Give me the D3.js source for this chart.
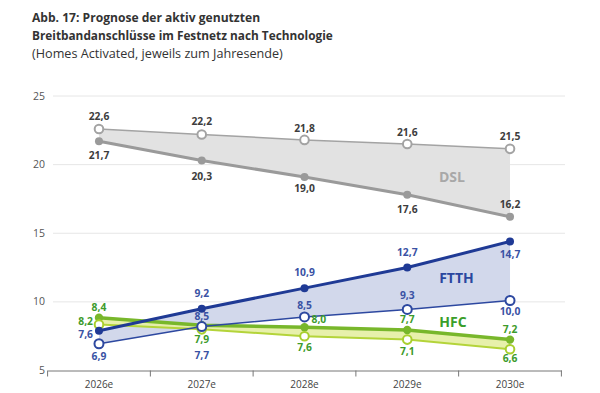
<!DOCTYPE html>
<html><head><meta charset="utf-8">
<script src="https://cdn.jsdelivr.net/npm/d3@7"></script>
<style>body{margin:0;background:#fff;}svg{display:block;font-family:"Open Sans",sans-serif;}</style>
</head><body><svg id="c" width="600" height="393"></svg>
<script>
const years = ["2026e","2027e","2028e","2029e","2030e"];
const yTicks = [5,10,15,20,25];
const dslTop = [22.6, 22.2, 21.8, 21.5, 21.15];
const dslBottom = [21.7, 20.3, 19.1, 17.8, 16.2];
const ftthTop = [7.9, 9.5, 11.0, 12.5, 14.4];
const ftthBottom = [6.95, 8.2, 8.9, 9.45, 10.1];
const hfcTop = [8.85, 8.3, 8.15, 7.95, 7.25];
const hfcBottom = [8.35, 8.0, 7.5, 7.25, 6.55];
const dslTopLabels = ["22,6","22,2","21,8","21,6","21,5"];
const dslBottomLabels = ["21,7","20,3","19,0","17,6","16,2"];
const ftthTopLabels = ["7,6","9,2","10,9","12,7","14,7"];
const ftthBottomLabels = ["6,9","7,7","8,5","9,3","10,0"];
const hfcTopLabels = ["8,4","8,5","8,0","7,7","7,2"];
const hfcBottomLabels = ["8,2","7,9","7,6","7,1","6,6"];

const svg = d3.select("#c");
const x = d3.scaleBand().domain(years).range([47.6, 561.4]);
const cx = d => x(d) + x.bandwidth()/2;
const y = d3.scaleLinear().domain([5,25]).range([370.5, 96]);

// title
const t = svg.append("g").attr("fill","#333");
t.append("text").attr("x",32).attr("y",22).attr("font-size",12.6).attr("font-weight","bold").text("Abb. 17: Prognose der aktiv genutzten");
t.append("text").attr("x",32).attr("y",40).attr("font-size",12.6).attr("font-weight","bold").text("Breitbandanschlüsse im Festnetz nach Technologie");
t.append("text").attr("x",32).attr("y",58).attr("font-size",12.6).text("(Homes Activated, jeweils zum Jahresende)");
t.selectAll("text").each(function(d,i){
  const target=[228,301,251][i]; const w=this.getComputedTextLength();
  d3.select(this).attr("font-size", 12.6*target/w);
});

// grid
svg.append("g").selectAll("line").data(yTicks.filter(v=>v>5)).join("line")
  .attr("x1",53).attr("x2",565).attr("y1",d=>y(d)).attr("y2",d=>y(d))
  .attr("stroke","#e6e6e6").attr("stroke-width",1);
svg.append("g").selectAll("text").data(yTicks).join("text")
  .attr("x",45).attr("y",d=>y(d)+3.5).attr("text-anchor","end")
  .attr("font-size",10.5).attr("fill","#555").text(d=>d);

// x axis
const xa = svg.append("g").attr("transform","translate(0,370.5)")
  .call(d3.axisBottom(x).tickSize(0).tickPadding(10));
xa.select(".domain").attr("stroke","#777");
xa.selectAll("text").attr("font-size",10).attr("fill","#444").attr("font-family","Open Sans, sans-serif");
const bounds = years.map(d=>x(d)).concat([x.range()[1]]);
svg.append("g").selectAll("line").data(bounds).join("line")
  .attr("x1",d=>d).attr("x2",d=>d).attr("y1",370.5).attr("y2",376.5).attr("stroke","#777");

const area = (a,b) => d3.area().x((d,i)=>cx(years[i])).y0((d,i)=>y(b[i])).y1(d=>y(d))(a);
const line = d3.line().x((d,i)=>cx(years[i])).y(d=>y(d));

// areas
svg.append("path").attr("d",area(dslTop,dslBottom)).attr("fill","#e2e2e2");
svg.append("path").attr("d",area(ftthTop,ftthBottom)).attr("fill","#d2d8eb");
svg.append("path").attr("d",area(hfcTop,hfcBottom)).attr("fill","#e6efa6").attr("opacity",0.95);

// lines
function drawLine(vals,color,w){svg.append("path").attr("d",line(vals)).attr("fill","none").attr("stroke",color).attr("stroke-width",w).attr("stroke-linejoin","round");}
drawLine(dslTop,"#a3a3a3",1.5);
drawLine(dslBottom,"#9a9a9a",3);
drawLine(hfcBottom,"#b4d43a",2);
drawLine(hfcTop,"#78b72b",3.5);
drawLine(ftthBottom,"#2d48a0",1.5);
drawLine(ftthTop,"#1f3a95",3);

function dots(vals,color,open,r){
  svg.append("g").selectAll("circle").data(vals).join("circle")
    .attr("cx",(d,i)=>cx(years[i])).attr("cy",d=>y(d)).attr("r",r)
    .attr("fill",open?"#fff":color).attr("stroke",color).attr("stroke-width",open?2:0);
}
dots(dslTop,"#a3a3a3",true,4.3);
dots(dslBottom,"#9a9a9a",false,4);
dots(hfcTop,"#78b72b",false,4.2);
dots(hfcBottom,"#a9cf2e",true,4.3);
dots(ftthTop,"#1f3a95",false,4);
dots(ftthBottom,"#2d48a0",true,4.5);

// labels
function labels(vals,texts,color,place){
  svg.append("g").selectAll("text").data(vals).join("text")
    .attr("x",(d,i)=>cx(years[i])+(place[i][0]))
    .attr("y",(d,i)=>y(d)+place[i][1])
    .attr("text-anchor",(d,i)=>place[i][2]||"middle")
    .attr("font-size",10.3).attr("font-weight","bold")
    .attr("fill",(d,i)=>place[i][3]||color).text((d,i)=>texts[i]);
}
const blue="#3a52a4", green="#3d9b2b", dark="#3d3d3d";
labels(dslTop,dslTopLabels,dark,[[0,-9],[0,-9],[0,-8],[0,-8],[0,-9]]);
labels(dslBottom,dslBottomLabels,dark,[[0,17.5],[0,19],[0,15],[0,18],[0,-9]]);
labels(ftthTop,ftthTopLabels,blue,[[-6,7.5,"end"],[0,-12],[0,-12],[0,-12],[0,17]]);
labels(ftthBottom,ftthBottomLabels,blue,[[0,16],[0,32],[0,-8],[0,-10.5],[0,14]]);
labels(hfcTop,hfcTopLabels,green,[[0,-7],[0,-5.5,"middle",blue],[7,-4,"start"],[0,-7],[0,-7]]);
labels(hfcBottom,hfcBottomLabels,green,[[-6,0.5,"end"],[0,14],[0,15],[0,15],[0,13]]);

// series names
svg.append("text").attr("x",452).attr("y",181.5).attr("text-anchor","middle").attr("font-size",14).attr("font-weight","bold").attr("fill","#a8a8a8").text("DSL");
svg.append("text").attr("x",456.5).attr("y",283).attr("text-anchor","middle").attr("font-size",14).attr("font-weight","bold").attr("fill","#2b479f").text("FTTH");
svg.append("text").attr("x",453).attr("y",327).attr("text-anchor","middle").attr("font-size",14).attr("font-weight","bold").attr("fill","#3a9e2a").text("HFC");
</script></body></html>
